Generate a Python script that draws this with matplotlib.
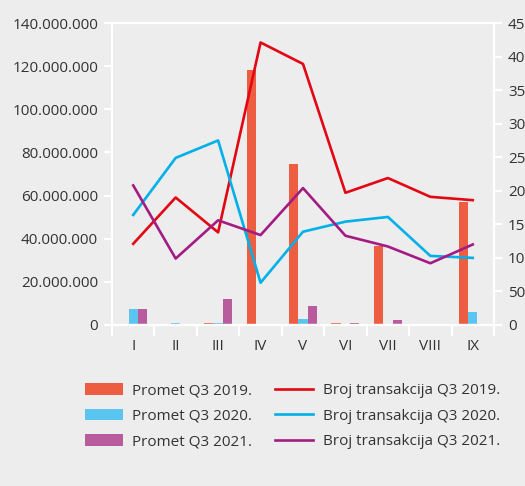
import numpy as np
import matplotlib.pyplot as plt
from matplotlib.ticker import FuncFormatter, FixedLocator

plt.rcParams['font.family'] = ['Open Sans', 'DejaVu Sans']

# months (roman numerals)
months = ["I", "II", "III", "IV", "V", "VI", "VII", "VIII", "IX"]

# turnover (left axis)
promet_2019 = [0.0, 0.4e6, 0.9e6, 118.0e6, 74.7e6, 1.1e6, 36.7e6, 0.4e6, 57.2e6]
promet_2020 = [7.4e6, 1.0e6, 1.1e6, 0.0, 2.6e6, 0.2e6, 0.3e6, 0.3e6, 5.9e6]
promet_2021 = [7.4e6, 0.2e6, 11.9e6, 0.3e6, 8.8e6, 1.0e6, 2.2e6, 0.1e6, 0.3e6]

# number of transactions (right axis)
broj_2019 = [121, 190, 138, 421, 389, 197, 219, 191, 186]
broj_2020 = [164, 249, 275, 63, 139, 154, 161, 103, 100]
broj_2021 = [208, 99, 156, 134, 204, 133, 117, 92, 120]

bg = "#ededed"
text_col = "#333333"

fig = plt.figure(figsize=(5.25, 4.86), dpi=100, facecolor=bg)
ax = fig.add_axes([112 / 525, 1 - 325 / 486, (494 - 112) / 525, (325 - 23) / 486])
ax.set_facecolor(bg)

x = np.arange(len(months))
w = 0.22
b1 = ax.bar(x - w, promet_2019, w, color="#ec5d42", label="Promet Q3 2019.")
b2 = ax.bar(x, promet_2020, w, color="#5bc5f2", label="Promet Q3 2020.")
b3 = ax.bar(x + w, promet_2021, w, color="#b85c9e", label="Promet Q3 2021.")

ax.set_xlim(-0.5, len(months) - 0.5)
ax.set_ylim(0, 140e6)
ax.set_yticks(np.arange(0, 140e6 + 1, 20e6))
ax.yaxis.set_major_formatter(FuncFormatter(lambda v, p: f"{int(v):,}".replace(",", ".")))
ax.set_xticks(x)
ax.set_xticklabels(months)
ax.xaxis.set_minor_locator(FixedLocator(np.arange(-0.5, len(months), 1.0)))

ax2 = ax.twinx()
l1, = ax2.plot(x, broj_2019, color="#e30613", lw=1.9, label="Broj transakcija Q3 2019.")
l2, = ax2.plot(x, broj_2020, color="#00b0e8", lw=1.9, label="Broj transakcija Q3 2020.")
l3, = ax2.plot(x, broj_2021, color="#a21c84", lw=1.9, label="Broj transakcija Q3 2021.")
ax2.set_ylim(0, 450)
ax2.set_yticks(np.arange(0, 451, 50))

for a in (ax, ax2):
    for s in a.spines.values():
        s.set_color("white")
        s.set_linewidth(1.6)
    a.tick_params(colors="white", labelcolor=text_col, labelsize=11, width=1.6, length=6, pad=4)
ax.tick_params(axis="x", which="major", length=0, pad=10)
ax.tick_params(axis="x", which="minor", length=8, width=1.6, color="white")

fig.legend(handles=[b1, b2, b3, l1, l2, l3], loc="upper left",
           bbox_to_anchor=(85 / 525, 1 - 383 / 486), ncol=2, frameon=False,
           fontsize=11, handlelength=2.5, handleheight=0.8, handletextpad=0.6,
           columnspacing=1.5, labelspacing=0.68, labelcolor=text_col, borderpad=0,
           borderaxespad=0)

fig.savefig("out.png", dpi=100, facecolor=bg)
